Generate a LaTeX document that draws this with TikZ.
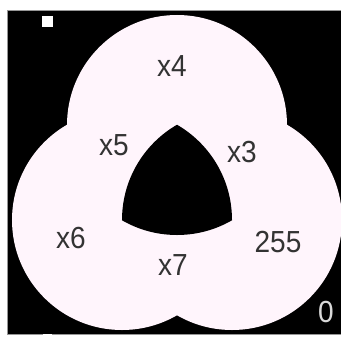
\documentclass[tikz,border=0pt]{standalone}
\usepackage{fontspec}
\setmainfont{Liberation Sans}[FakeStretch=0.92]
\definecolor{venn}{RGB}{255,245,252}
\definecolor{rim}{RGB}{150,150,150}

\begin{document}
\begin{tikzpicture}[x=0.03cm, y=-0.03cm,
		lbl/.style={font=\fontsize{26}{30}\selectfont, text=black!80, inner sep=0pt}]
		\useasboundingbox (0,0) rectangle (341,336);
		\clip (0,0) rectangle (341,336);
		\coordinate (ct) at (177,125);
		\coordinate (cl) at (122,220);
		\coordinate (cr) at (232,220);
		% background and frame
		\fill[white] (0,0) rectangle (341,336);
		\filldraw[fill=black, draw=rim] (7,10) rectangle (346,334);
		% corner markers
		\fill[white] (42,16) rectangle (53,27);
		\fill[white] (43,334) rectangle (52,345);
		% the three discs
		\foreach \c in {ct,cl,cr} {
			\fill[venn] (\c) circle (3.3cm);
		}
		% common part of all three
		\begin{scope}
			\clip (ct) circle (3.3cm);
			\clip (cl) circle (3.3cm);
			\fill[black] (cr) circle (3.3cm);
		\end{scope}
		% region labels
		\node[lbl] (x4) at (172,66) {x4};
		\node[lbl] (x5) at (114,145) {x5};
		\node[lbl] (x3) at (242,152) {x3};
		\node[lbl] (x6) at (71,238) {x6};
		\node[lbl] (x7) at (173,265) {x7};
		\node[lbl] (r255) at (278,242) {255};
		\node[lbl, text=white!85!black] (r0) at (326,312) {0};
	\end{tikzpicture}
\end{document}
